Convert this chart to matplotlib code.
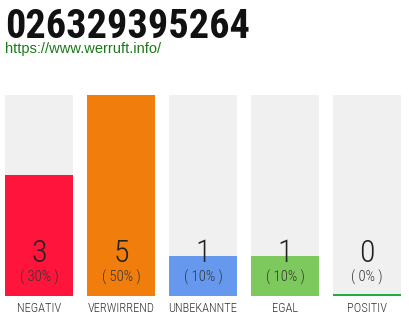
import matplotlib
matplotlib.use("Agg")
import matplotlib.pyplot as plt
from matplotlib import font_manager

title = "026329395264"
url = "https://www.werruft.info/"
categories = ["NEGATIV", "VERWIRREND", "UNBEKANNTE", "EGAL", "POSITIV"]
counts = [3, 5, 1, 1, 0]
percents = [30, 50, 10, 10, 0]
colors = ["#ff143c", "#f07d0c", "#6699ee", "#7dc95e", "#22aa44"]

fonts = {}
for f in font_manager.fontManager.ttflist:
    fonts.setdefault(f.name, set()).add(int(f.weight))


def pick(cands, weight, slack=100):
    for name in cands:
        if any(abs(w - weight) <= slack for w in fonts.get(name, ())):
            return name
    return "DejaVu Sans"


title_font = pick(["Oswald", "Roboto Condensed", "Barlow Condensed"], 700)
thin_font = pick(["Oswald", "Roboto Condensed", "Barlow Condensed"], 300, 0)

fig = plt.figure(figsize=(4.1, 3.2), dpi=100)
fig.text(5 / 410, 1 - 38 / 320, title, fontsize=29, fontweight="bold",
         family=title_font, color="#111111", va="baseline", ha="left")
fig.text(5 / 410, 1 - 53 / 320, url, fontsize=10.5, family="Liberation Sans",
         color="#1a7a1a", va="baseline", ha="left")

ax = fig.add_axes([5 / 410, 24 / 320, 396 / 410, 201 / 320])
w = 68 / 82
top = max(counts)
x = list(range(len(categories)))
ax.bar(x, [top] * len(x), width=w, color="#f0f0f0")
tr = ax.get_xaxis_transform()
for i, c in enumerate(counts):
    if c > 0:
        ax.bar(i, c, width=w, color=colors[i])
    else:
        ax.bar(i, top * 2 / 201, width=w, color=colors[i])
    ax.text(i, 0.21, str(c), transform=tr, ha="center", va="center",
            fontsize=23, family=thin_font, fontweight=300, color="#222222")
    ax.text(i, 0.094, f"( {percents[i]}% )", transform=tr, ha="center",
            va="center", fontsize=10.5, family=thin_font, fontweight=300,
            color="#333333")
    ax.text(i, -0.06, categories[i], transform=tr, ha="center", va="center",
            fontsize=9, family=thin_font, fontweight=300, color="#333333")

ax.set_xlim(-0.5 * w, len(x) - 1 + 0.5 * w)
ax.set_ylim(0, top)
ax.axis("off")
fig.savefig("out.png", dpi=100)
